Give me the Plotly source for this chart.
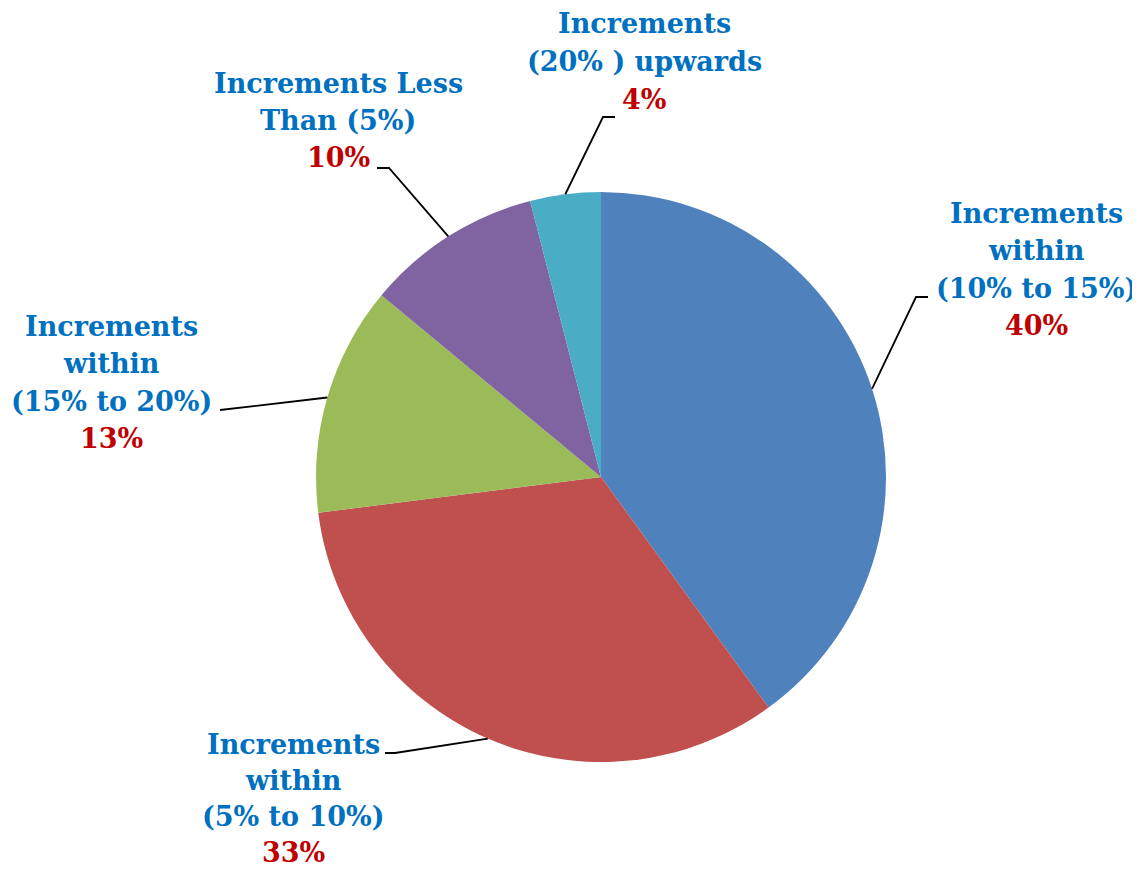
import math
import plotly.graph_objects as go

labels = ["Increments within (10% to 15%)", "Increments within (5% to 10%)",
          "Increments within (15% to 20%)", "Increments Less Than (5%)",
          "Increments (20% ) upwards"]
label_lines = [["Increments", "within", "(10% to 15%)"],
               ["Increments", "within", "(5% to 10%)"],
               ["Increments", "within", "(15% to 20%)"],
               ["Increments Less", "Than (5%)"],
               ["Increments", "(20% ) upwards"]]
values = [40, 33, 13, 10, 4]
colors = ["#4F81BD", "#C0504D", "#9BBB59", "#8064A2", "#4BACC6"]

OFF = 8  # page body margin
W, H = 1140 - OFF, 871 - OFF
CX, CY, R = 601, 477, 285  # screen px

# label block: center x, first-line y, line step (screen px)
label_pos = [(1036, 213, 37.5), (293, 744, 36.2), (111, 326, 37.5), (338, 83, 37.5), (644, 24, 37.5)]
elbows = [((916, 297), (928, 297)), ((395, 753), (385, 753)),
          (None, (220, 410)), ((389, 168), (377, 168)),
          ((603, 117), (615, 117))]

def px(x, y):
    return (x - OFF) / W, 1 - (y - OFF) / H

x0, y1 = px(CX - R, CY - R)
x1, y0 = px(CX + R, CY + R)
fig = go.Figure(go.Pie(
    labels=labels, values=values, sort=False, direction="clockwise", rotation=0,
    marker=dict(colors=colors, line=dict(width=0)), textinfo="none",
    hoverinfo="label+percent", showlegend=False,
    domain=dict(x=[x0, x1], y=[y0, y1]),
))

total = sum(values)
cum = 0
shapes = []
annotations = []
font = "DejaVu Serif"
for i, v in enumerate(values):
    mid = (cum + v / 2) / total * 2 * math.pi
    cum += v
    sx = CX + R * math.sin(mid)
    sy = CY - R * math.cos(mid)
    el, end = elbows[i]
    if el is None:
        el = (sx, sy)
    pts = [px(sx, sy), px(*el), px(*end)]
    path = "M {} {} L {} {} L {} {}".format(*pts[0], *pts[1], *pts[2])
    shapes.append(dict(type="path", xref="paper", yref="paper", path=path,
                       line=dict(color="black", width=1.8)))
    lines = label_lines[i] + ["{}%".format(v)]
    lx0, ly0, step = label_pos[i]
    for j, t in enumerate(lines):
        color = "#C00000" if j == len(lines) - 1 else "#0070C0"
        ax, ay = px(lx0, ly0 + j * step)
        annotations.append(dict(x=ax, y=ay, xref="paper", yref="paper", text="<b>" + t + "</b>",
                                showarrow=False, xanchor="center", yanchor="middle",
                                font=dict(family=font, size=27, color=color)))

fig.update_layout(width=W, height=H, margin=dict(l=0, r=0, t=0, b=0),
                  paper_bgcolor="white", plot_bgcolor="white",
                  shapes=shapes, annotations=annotations)
fig.write_html("out.html")
